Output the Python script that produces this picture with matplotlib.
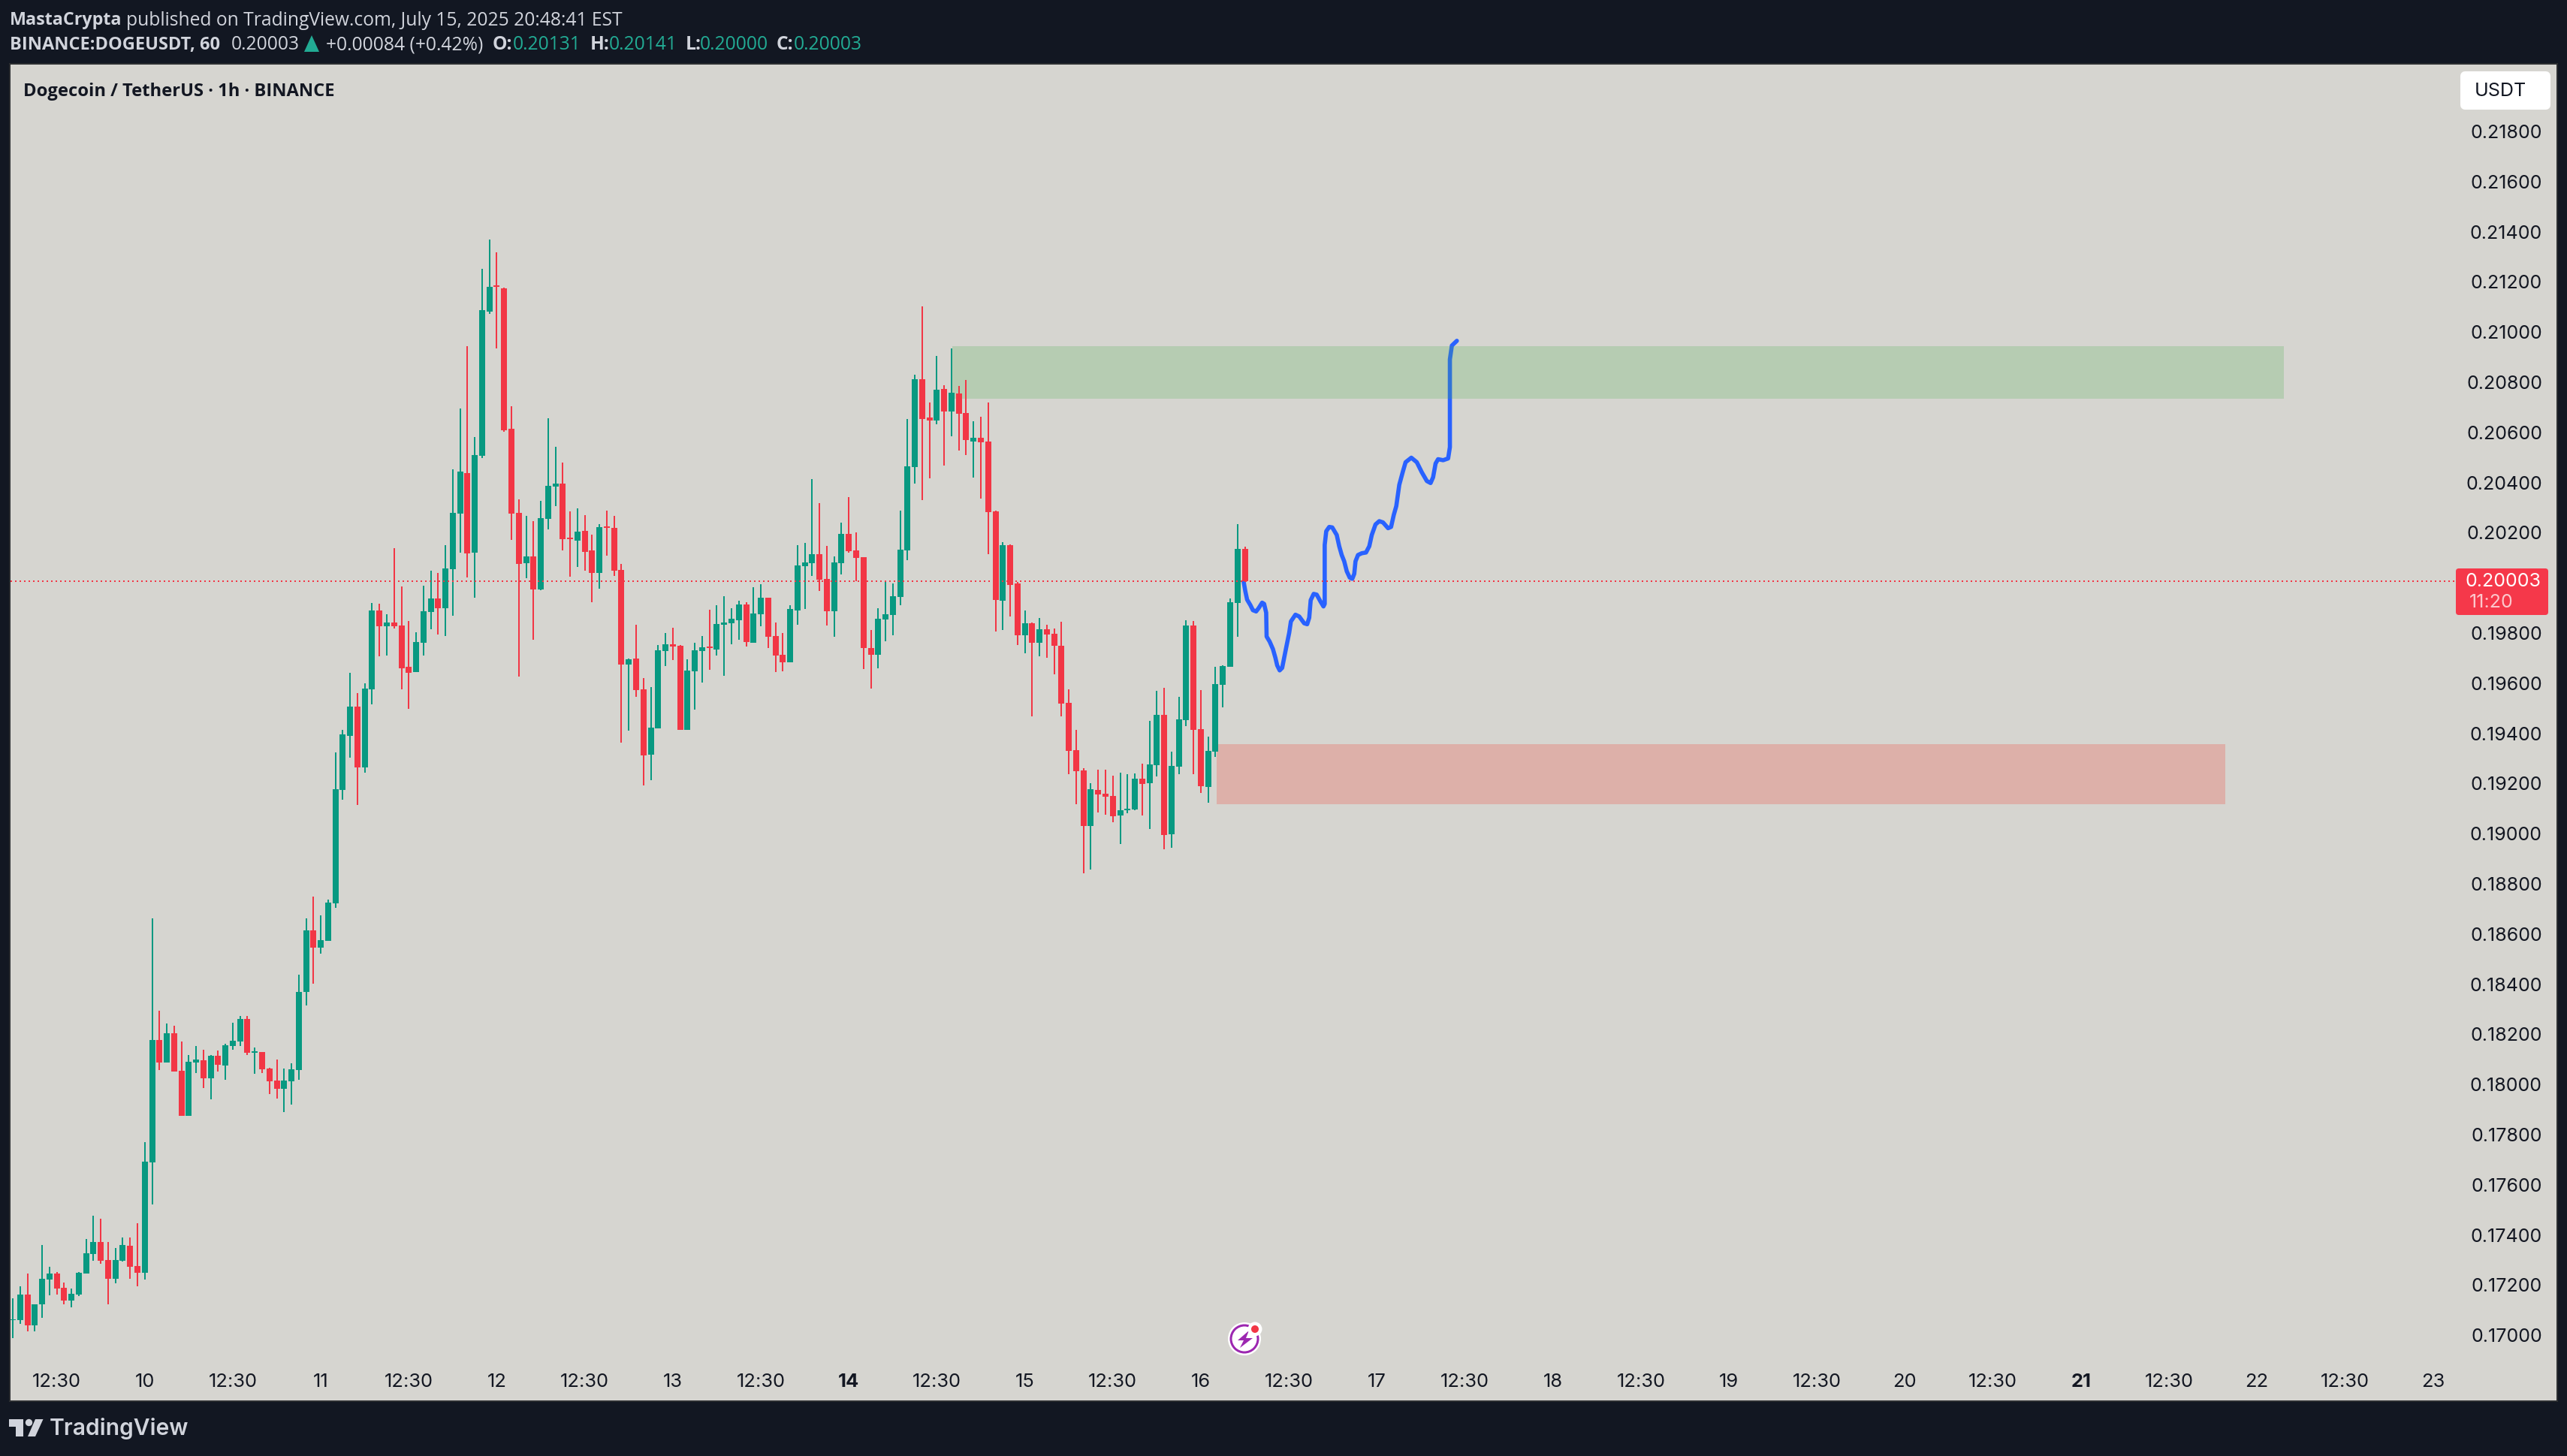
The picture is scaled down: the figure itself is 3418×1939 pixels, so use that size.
import numpy as np
import matplotlib
matplotlib.use("Agg")
import matplotlib.pyplot as plt
from matplotlib.patches import Rectangle, FancyBboxPatch, Polygon, Circle

# ---- data (price x 1e5), one value per hourly bar ----
opens = [17056,17056,17160,17037,17119,17220,17244,17187,17136,17160,17244,17322,17370,17298,17223,17295,17353,17274,17247,17685,
 18174,18084,18202,18052,17871,18084,18093,18021,18111,18072,18150,18168,18258,18123,18127,18060,18012,17980,18009,18055,
 18367,18612,18543,18570,18720,19170,19386,19504,19261,19573,19888,19824,19839,19827,19663,19642,19758,19882,19936,19896,
 20052,20274,20436,20118,20505,21079,21182,21171,20611,20277,20074,20101,19971,20251,20380,20392,20176,20166,20205,20127,
 20037,20223,20217,20049,19671,19695,19572,19311,19416,19725,19752,19746,19410,19644,19725,19743,19731,19830,19836,19848,
 19911,19758,19872,19938,19785,19710,19680,19887,20064,20076,20112,20013,19884,20076,20193,20127,20100,19737,19710,19851,
 19869,19941,20127,20460,20810,20655,20645,20771,20681,20753,20675,20561,20576,20561,20282,19925,20147,19995,19788,19836,
 19758,19812,19794,19746,19518,19329,19248,19029,19170,19155,19146,19068,19089,19092,19215,19197,19269,19470,18996,19263,
 19449,19827,19413,19182,19323,19590,19662,19917,20131]
highs = [17145,17191,17242,17121,17358,17271,17250,17206,17184,17250,17380,17475,17463,17368,17346,17388,17388,17443,17767,18660,
 18292,18241,18231,18168,18115,18150,18135,18115,18132,18159,18243,18270,18270,18144,18127,18063,18096,18060,18081,18435,
 18660,18747,18672,18735,19320,19411,19639,19558,19596,19917,19914,19873,20136,19983,19845,19801,19986,20046,20038,20146,
 20449,20692,20940,20577,21249,21367,21315,21174,20701,20329,20265,20242,20323,20652,20539,20476,20283,20293,20268,20190,
 20232,20286,20265,20072,19695,19830,19617,19581,19749,19797,19818,19749,19692,19758,19785,19890,19908,19944,19896,19926,
 19920,19980,19992,19938,19839,19797,19908,20148,20157,20412,20316,20145,20103,20238,20340,20199,20100,19809,19896,20004,
 19995,20286,20651,20828,21098,20717,20903,20786,20933,20783,20807,20640,20660,20715,20285,20160,20150,20001,19887,19839,
 19857,19830,19815,19842,19572,19410,19257,19197,19251,19251,19227,19239,19233,19236,19275,19446,19566,19578,19323,19542,
 19848,19845,19569,19383,19662,19668,19935,20232,20141]
lows = [16987,17044,17013,17013,17065,17157,17160,17121,17107,17152,17244,17293,17281,17119,17203,17290,17223,17191,17220,17518,
 18055,18084,18048,17871,17871,18042,17982,17937,18048,18016,18135,18150,18115,18040,18042,17958,17941,17886,17917,18016,
 18312,18399,18519,18570,18700,19132,19299,19111,19239,19513,19705,19708,19815,19573,19495,19642,19708,19813,19792,19786,
 19867,20118,20020,19939,20496,21070,20932,20599,20167,19623,20017,19770,19968,20211,20302,20127,20023,20061,20046,19920,
 19974,20106,20025,19359,19407,19542,19188,19209,19416,19665,19689,19410,19410,19491,19599,19650,19707,19626,19752,19770,
 19743,19758,19824,19737,19641,19644,19680,19830,19893,20025,19965,19827,19782,20031,20118,20004,19653,19575,19656,19764,
 19788,19908,20087,20393,20327,20415,20630,20465,20580,20525,20507,20417,20333,20112,19802,19809,19862,19749,19716,19464,
 19704,19698,19632,19464,19233,19113,18840,18855,19080,19071,19044,18957,19077,19089,19068,19017,19224,18936,18942,19233,
 19425,19233,19158,19119,19302,19500,19662,19782,20000]
closes = [17061,17160,17037,17121,17223,17244,17184,17136,17163,17247,17325,17370,17295,17223,17298,17356,17271,17247,17688,18174,
 18084,18202,18048,17871,18087,18096,18021,18111,18075,18154,18171,18258,18123,18130,18057,18009,17980,18012,18057,18367,
 18612,18543,18573,18723,19175,19392,19504,19261,19576,19888,19824,19839,19824,19657,19639,19761,19885,19936,19896,20055,
 20277,20440,20115,20508,21083,21177,21176,20605,20274,20071,20101,19971,20254,20383,20392,20170,20170,20202,20121,20037,
 20220,20217,20046,19671,19692,19569,19308,19419,19728,19752,19743,19410,19647,19728,19740,19737,19833,19839,19854,19911,
 19761,19875,19938,19782,19707,19680,19893,20067,20079,20112,20010,19884,20079,20193,20124,20097,19737,19710,19854,19872,
 19944,20130,20462,20810,20651,20645,20768,20681,20756,20672,20565,20576,20558,20280,19928,20147,19988,19787,19836,19758,
 19812,19791,19746,19515,19326,19245,19029,19173,19152,19143,19065,19089,19095,19215,19194,19272,19470,18993,19266,19452,
 19827,19410,19185,19326,19593,19665,19920,20133,20003]

path_bar = [167.83,168.07,168.31,168.76,169.10,169.54,169.88,170.36,170.63,170.91,170.97,171.38,171.83,172.17,172.41,172.75,173.09,173.36,
 173.70,174.05,174.28,174.90,175.41,176.09,176.50,176.78,176.98,177.39,177.80,178.31,178.72,178.89,178.89,179.10,179.51,179.92,
 180.53,180.87,181.21,181.55,181.90,182.30,182.65,182.92,183.09,183.43,183.94,184.52,184.97,185.31,185.82,186.33,186.84,187.53,
 187.94,188.31,188.65,189.06,189.57,189.92,190.70,191.45,192.13,192.82,193.33,193.67,194.01,194.35,195.04,195.72,195.96,195.96,196.23,196.91]
path_price = [20003,19963,19930,19908,19888,19883,19896,19918,19913,19878,19783,19763,19733,19698,19668,19648,19658,19698,
 19748,19798,19843,19870,19863,19836,19832,19858,19928,19953,19950,19923,19903,19913,20148,20203,20220,20218,
 20188,20143,20108,20083,20043,20018,20013,20033,20083,20108,20115,20118,20143,20188,20230,20243,20238,20215,
 20220,20268,20303,20388,20443,20478,20496,20478,20438,20403,20395,20418,20473,20490,20486,20493,20538,20888,20943,20962]

green_zone = dict(bars=(128.1, 309.7), prices=(20732, 20942))
red_zone = dict(bars=(164.2, 301.7), prices=(19113, 19353))
last_price = 20003

y_ticks = [21800,21600,21400,21200,21000,20800,20600,20400,20200,19800,19600,19400,19200,19000,18800,18600,18400,18200,18000,17800,17600,17400,17200,17000]
x_ticks = list(range(6, 331, 12))
x_labels = ['12:30','10','12:30','11','12:30','12','12:30','13','12:30','14','12:30','15','12:30','16','12:30','17','12:30','18','12:30','19','12:30','20','12:30','21','12:30','22','12:30','23']
bold_x = {'14', '21'}

W, H = 3418, 1940
DARK = '#121722'; BG = '#D6D5D0'; UP = '#089981'; DOWN = '#F23645'; INK = '#131722'; LIGHT = '#D1D4DC'; TEAL = '#22AB94'
UI = 'Inter'; HEAD = 'Open Sans'

fig = plt.figure(figsize=(W/100, H/100), dpi=100, facecolor=DARK)
px = 0.72  # points per pixel at 100 dpi

# ---- chrome layer (pixel coordinates) ----
bgax = fig.add_axes([0, 0, 1, 1], zorder=0)
bgax.set_xlim(0, W); bgax.set_ylim(H, 0); bgax.axis('off')
bgax.add_patch(Rectangle((12, 85), 3394, 1783, fc='#2B2D30', ec='none'))

# ---- chart ----
L, R, T, B = 14, 3404, 87, 1866
ax = fig.add_axes([L/W, 1-B/H, (R-L)/W, (B-T)/H], zorder=1, facecolor=BG)
step = 9.765
ax.set_xlim((L-17)/step, (R-17)/step)
ax.set_ylim(0.218-(B-175)/33400, 0.218+(175-T)/33400)
for s in ax.spines.values():
    s.set_visible(False)

o, h, l, c = [np.array(a)/1e5 for a in (opens, highs, lows, closes)]
x = np.arange(len(o))
col = np.where(c >= o, UP, DOWN)

ax.plot(path_bar, np.array(path_price)/1e5, color='#2962FF', lw=5.6*px, solid_capstyle='round', solid_joinstyle='round', zorder=2)
ax.add_patch(Rectangle((green_zone['bars'][0], green_zone['prices'][0]/1e5),
                       green_zone['bars'][1]-green_zone['bars'][0], (green_zone['prices'][1]-green_zone['prices'][0])/1e5,
                       fc='#4CAF50', alpha=0.23, ec='none', zorder=3))
ax.add_patch(Rectangle((red_zone['bars'][0], red_zone['prices'][0]/1e5),
                       red_zone['bars'][1]-red_zone['bars'][0], (red_zone['prices'][1]-red_zone['prices'][0])/1e5,
                       fc='#F44336', alpha=0.25, ec='none', zorder=3))
ax.vlines(x, l, h, colors=col, lw=2*px, zorder=4, antialiased=False)
ax.bar(x, np.abs(c-o), bottom=np.minimum(o, c), width=8/step, color=col, lw=0, zorder=5)
ax.plot([(L-17)/step, (3270-17)/step], [last_price/1e5]*2, color=DOWN, lw=2*px, ls=(0, (1, 2.2)), zorder=6, antialiased=False)

ax.yaxis.tick_right()
ax.set_yticks(np.array(y_ticks)/1e5, [f'{v/1e5:.5f}' for v in y_ticks])
ax.tick_params(axis='y', length=0, pad=-19*px, labelsize=25*px, labelcolor=INK)
for t in ax.get_yticklabels():
    t.set_ha('right'); t.set_family(UI)
ax.set_xticks(x_ticks, x_labels)
ax.tick_params(axis='x', length=0, pad=-37*px, labelsize=25.5*px, labelcolor=INK)
for t in ax.get_xticklabels():
    t.set_family(UI)
    t.set_fontweight('bold' if t.get_text() in bold_x else 'normal')

# ---- overlay ----
ov = fig.add_axes([0, 0, 1, 1], zorder=2, facecolor='none')
ov.set_xlim(0, W); ov.set_ylim(H, 0); ov.axis('off')

def txt(xp, yp, s, color=LIGHT, size=24.6, weight='normal', family=HEAD, ha='left', alpha=1):
    return ov.text(xp, yp, s, color=color, fontsize=size*px, fontweight=weight, family=family, ha=ha, va='center', alpha=alpha)

txt(13, 27, 'MastaCrypta', weight='bold', size=23.2)
txt(168, 27, 'published on TradingView.com, July 15, 2025 20:48:41 EST')
txt(13, 60, 'BINANCE:DOGEUSDT, 60', weight='bold', size=23.6)
txt(308, 60, '0.20003')
ov.add_patch(Polygon([[415, 48], [405, 70], [425, 70]], fc=TEAL, ec='none'))
txt(434, 60, '+0.00084 (+0.42%)')
for xl, lab, xv, val in [(656, 'O:', 683, '0.20131'), (786, 'H:', 811, '0.20141'), (913, 'L:', 932, '0.20000'), (1034, 'C:', 1057, '0.20003')]:
    txt(xl, 60, lab, weight='bold')
    txt(xv, 60, val, color=TEAL)
txt(31, 122, 'Dogecoin / TetherUS · 1h · BINANCE', color=INK, weight='bold', size=23.7)

ov.add_patch(FancyBboxPatch((3282, 102), 108, 39, boxstyle='round,pad=0,rounding_size=0', fc='white', ec='white', lw=12*px*1.0, joinstyle='round'))
txt(3295, 122, 'USDT', color=INK, size=25, family=UI)
ov.add_patch(FancyBboxPatch((3270, 758), 123, 62, boxstyle='round,pad=0,rounding_size=4', fc='#F5384A', ec='none'))
txt(3383, 775, '0.20003', color='white', size=25, family=UI, ha='right')
txt(3288, 803, '11:20', color='white', size=25, family=UI, alpha=0.72)

# TradingView logo
ov.add_patch(Polygon([[12, 1891], [31, 1891], [31, 1914], [21, 1914], [21, 1901], [12, 1901]], fc=LIGHT, ec='none'))
ov.add_patch(Circle((38.5, 1895.5), 4.7, fc=LIGHT, ec='none'))
ov.add_patch(Polygon([[47, 1891], [57.5, 1891], [47, 1914], [37, 1914]], fc=LIGHT, ec='none'))
txt(66, 1903, 'TradingView', color=LIGHT, size=30, weight='semibold', family='Inter')

# flash icon
ov.add_patch(Circle((1657, 1784), 22, fc='white', ec='none'))
ov.add_patch(Circle((1657, 1784), 18, fc='none', ec='#9C27B0', lw=3*px))
ov.add_patch(Polygon([[1663, 1773], [1648, 1786], [1656, 1786], [1651, 1796], [1668, 1783], [1659, 1783]], fc='#9C27B0', ec='none'))
ov.add_patch(Circle((1671, 1771), 9.5, fc='white', ec='none'))
ov.add_patch(Circle((1671, 1771), 5, fc=DOWN, ec='none'))

fig.savefig('out.png', dpi=100, facecolor=DARK)
